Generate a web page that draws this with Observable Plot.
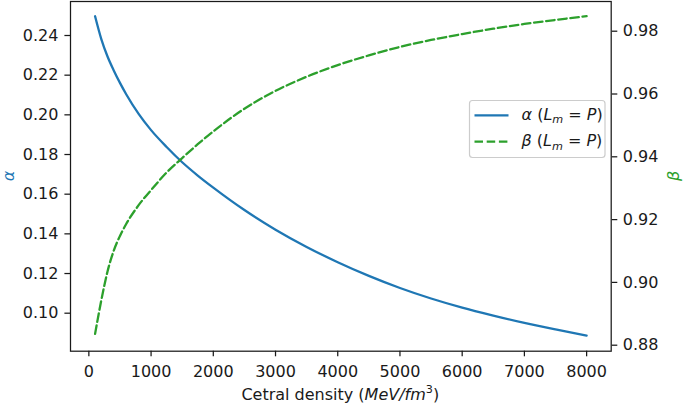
<!DOCTYPE html>
<html>
<head>
<meta charset="utf-8">
<script src="https://cdn.jsdelivr.net/npm/d3@7"></script>
<script src="https://cdn.jsdelivr.net/npm/@observablehq/plot@0.6"></script>
<style>
  html, body { margin: 0; padding: 0; background: #fff; }
  #chart { position: relative; width: 685px; height: 405px; }
</style>
</head>
<body>
<div id="chart"></div>
<script>
// Central density (MeV/fm^3)
const density = [100, 200, 300, 400, 500, 600, 800, 1000, 1250, 1500, 1750, 2000, 2500, 3000, 3500, 4000, 4500, 5000, 5500, 6000, 6500, 7000, 7500, 8000];
// alpha (L_m = P)
const alphaVals = [0.2497, 0.2382, 0.2294, 0.2224, 0.2161, 0.2104, 0.2005, 0.1923, 0.1838, 0.1761, 0.1694, 0.1633, 0.1520, 0.1421, 0.1334, 0.1257, 0.1188, 0.1127, 0.1074, 0.1028, 0.0988, 0.0951, 0.0918, 0.0887];
// beta (L_m = P)
const betaVals = [0.8836, 0.8943, 0.9035, 0.9101, 0.9148, 0.9186, 0.9246, 0.9294, 0.9350, 0.9396, 0.9440, 0.9481, 0.9553, 0.9610, 0.9655, 0.9692, 0.9723, 0.9750, 0.9772, 0.9791, 0.9808, 0.9823, 0.9836, 0.9848];

const xTicks = [0, 1000, 2000, 3000, 4000, 5000, 6000, 7000, 8000];
const alphaTicks = [0.10, 0.12, 0.14, 0.16, 0.18, 0.20, 0.22, 0.24];
const betaTicks = [0.88, 0.90, 0.92, 0.94, 0.96, 0.98];

const rows = density.map((x, i) => ({x, alpha: alphaVals[i], beta: betaVals[i]}));

const alphaDomain = [0.08084, 0.25714];
const betaDomain = [0.87809, 0.98946];
// map the right (beta) axis onto the left (alpha) scale
const b2a = d3.scaleLinear().domain(betaDomain).range(alphaDomain);

const BLUE = "#1f77b4", GREEN = "#2ca02c", INK = "#1a1a1a";
const FONT = "DejaVu Sans, sans-serif";
const FS = 16;

const plot = Plot.plot({
  width: 685,
  height: 405,
  marginLeft: 70,
  marginRight: 74.3,
  marginTop: 1,
  marginBottom: 54.3,
  style: {fontFamily: FONT, fontSize: FS + "px", background: "#fff", color: INK, overflow: "visible"},
  x: {domain: [-295, 8395]},
  y: {domain: alphaDomain},
  marks: [
    Plot.axisX(xTicks, {tickSize: 5.6, tickPadding: 8.5, label: null, tickFormat: d3.format("d"), stroke: INK, fill: INK, strokeWidth: 1.25}),
    Plot.axisY(alphaTicks, {anchor: "left", tickSize: 5.6, tickPadding: 6.5, label: null, tickFormat: d3.format(".2f"), stroke: INK, fill: INK, strokeWidth: 1.25}),
    Plot.axisY(betaTicks.map(b => b2a(b)), {anchor: "right", tickSize: 5.6, tickPadding: 6, label: null,
      tickFormat: d => d3.format(".2f")(b2a.invert(d)), stroke: INK, fill: INK, strokeWidth: 1.25}),
    Plot.line(rows, {x: "x", y: "alpha", stroke: BLUE, strokeWidth: 2.3, curve: "monotone-x"}),
    Plot.line(rows, {x: "x", y: d => b2a(d.beta), stroke: GREEN, strokeWidth: 2.3, strokeDasharray: "8.5,3.7", curve: "monotone-x"}),
    Plot.frame({stroke: INK, strokeWidth: 1.25})
  ]
});

document.getElementById("chart").appendChild(plot);

const svg = d3.select(plot);

// y labels
svg.append("text")
  .attr("transform", "translate(13.5,176) rotate(-90)")
  .attr("text-anchor", "middle")
  .attr("font-family", FONT).attr("font-size", FS).attr("font-style", "italic")
  .attr("fill", BLUE).text("α");
svg.append("text")
  .attr("transform", "translate(678.5,176) rotate(-90)")
  .attr("text-anchor", "middle")
  .attr("font-family", FONT).attr("font-size", FS).attr("font-style", "italic")
  .attr("fill", GREEN).text("β");

// x label
const xl = svg.append("text")
  .attr("x", 340.3).attr("y", 399.5)
  .attr("text-anchor", "middle")
  .attr("font-family", FONT).attr("font-size", FS).attr("fill", INK);
xl.append("tspan").text("Cetral density (");
xl.append("tspan").attr("font-style", "italic").text("MeV/fm");
xl.append("tspan").attr("font-size", 11.2).attr("dy", -7).text("3");
xl.append("tspan").attr("dy", 7).text(")");

// legend
const lg = svg.append("g");
lg.append("rect").attr("x", 469.5).attr("y", 100.5).attr("width", 135.5).attr("height", 57)
  .attr("rx", 3).attr("fill", "#fff").attr("fill-opacity", 0.8).attr("stroke", "#cccccc").attr("stroke-width", 1.2);
const items = [
  {sym: "α", color: BLUE, dash: null, y: 115.3, base: 119.8},
  {sym: "β", color: GREEN, dash: "8.5,3.7", y: 141.7, base: 146.3}
];
items.forEach(it => {
  const ln = lg.append("line").attr("x1", 474.5).attr("x2", 508.5).attr("y1", it.y).attr("y2", it.y)
    .attr("stroke", it.color).attr("stroke-width", 2.3);
  if (it.dash) ln.attr("stroke-dasharray", it.dash);
  const t = lg.append("text").attr("x", 521.5).attr("y", it.base)
    .attr("text-anchor", "start")
    .attr("font-family", FONT).attr("font-size", FS).attr("fill", INK);
  t.append("tspan").attr("font-style", "italic").text(it.sym);
  t.append("tspan").text(" (");
  t.append("tspan").attr("font-style", "italic").text("L");
  t.append("tspan").attr("font-style", "italic").attr("font-size", 11.2).attr("dy", 3.5).text("m");
  t.append("tspan").attr("dy", -3.5).text(" = ");
  t.append("tspan").attr("font-style", "italic").text("P");
  t.append("tspan").text(")");
});
</script>
</body>
</html>
